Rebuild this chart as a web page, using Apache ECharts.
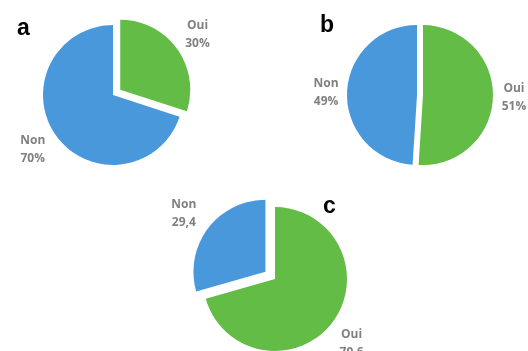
<!DOCTYPE html>
<html>
<head>
<meta charset="utf-8">
<script src="https://cdn.jsdelivr.net/npm/echarts@6/dist/echarts.min.js"></script>
<style>
  html, body { margin: 0; padding: 0; background: #ffffff; }
  #chart { width: 528px; height: 351px; }
</style>
</head>
<body>
<div id="chart"></div>
<script>
// Answer categories (drawn clockwise from 12 o'clock)
const categories = ['Oui', 'Non'];

// Percentages per panel
const valuesA = [30, 70];
const valuesB = [51, 49];
const valuesC = [70.6, 29.4];

// Panel letters
const panelLetters = ['a', 'b', 'c'];

// Decimal separators used in panel c's labels, per category
const sepC = ['.', ','];

const BLUE = '#4a98dc';
const GREEN = '#62bc45';
const colors = { Oui: GREEN, Non: BLUE };

function makeData(values, selectedNames) {
  return categories.map((name, i) => ({
    name: name,
    value: values[i],
    selected: selectedNames.indexOf(name) >= 0,
    itemStyle: { color: colors[name] }
  }));
}

const labelStyle = {
  show: true,
  position: 'outside',
  color: '#808080',
  fontFamily: 'Open Sans',
  fontWeight: 'bold',
  fontSize: 12,
  lineHeight: 18
};

// nudges: per-slice [dx, dy] fine adjustment of the label position
function pieSeries(values, center, radius, selectedNames, offset, mode, formatter, len, nudges) {
  return {
    type: 'pie',
    center: center,
    radius: radius,
    startAngle: 90,
    clockwise: true,
    selectedMode: mode,
    selectedOffset: offset,
    avoidLabelOverlap: false,
    silent: true,
    animation: false,
    label: Object.assign({}, labelStyle, { formatter: formatter }),
    labelLine: { show: false, length: len, length2: 0 },
    labelLayout: function (p) {
      const n = (nudges && nudges[p.dataIndex]) || [0, 0];
      return { align: 'center', verticalAlign: 'middle', dx: n[0], dy: n[1] };
    },
    itemStyle: { borderWidth: 0 },
    emphasis: { disabled: true },
    data: makeData(values, selectedNames)
  };
}

const letterStyle = {
  color: '#000000',
  fontFamily: 'Liberation Sans',
  fontWeight: 'bold',
  fontSize: 23
};

const chart = echarts.init(document.getElementById('chart'), null, { renderer: 'canvas' });
chart.setOption({
  backgroundColor: '#ffffff',
  title: [
    { text: panelLetters[0], left: 12, top: 12, textStyle: letterStyle },
    { text: panelLetters[1], left: 315, top: 9, textStyle: letterStyle },
    { text: panelLetters[2], left: 318, top: 190, textStyle: letterStyle }
  ],
  series: [
    pieSeries(valuesA, [113, 95], 70, ['Oui'], 9, 'single', '{b}\n{c}%', 23, [[-3, 0], [0, 0]]),
    pieSeries(valuesB, [420, 95], 70, ['Oui', 'Non'], 3, 'multiple', '{b}\n{c}%', 16),
    pieSeries(valuesC, [275, 279], 72, ['Non'], 12, 'single',
      p => p.name + '\n' + String(p.value).replace('.', sepC[p.dataIndex]), 24, [[-5, 7], [0, 0]])
  ]
});
</script>
</body>
</html>
